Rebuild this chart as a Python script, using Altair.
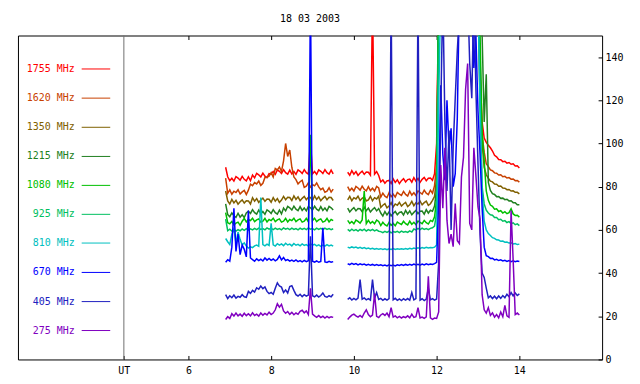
import altair as alt
import pandas as pd

SERIES = ["1755 MHz", "1620 MHz", "1350 MHz", "1215 MHz", "1080 MHz",
          "925 MHz", "810 MHz", "670 MHz", "405 MHz", "275 MHz"]
COLORS = ["#ff0000", "#c84000", "#806000", "#208020", "#00c000",
          "#00c060", "#00c0c0", "#0000ff", "#2020c0", "#8000c0"]

# time sampling (UT hours): segment A starts 6.90, segment B starts 9.85, 0.05 h steps
T_A0, T_B0, STEP = 6.90, 9.85, 0.05

# ---- segment A values (6.90 .. 9.50 UT) ----
A_1755 = [89, 84.6, 82.8, 83.9, 82.6, 84.7, 84.0, 83.0, 84.8, 83.4,
          82.7, 84.6, 82.8, 85.4, 84.1, 86.2, 85.5, 84.5, 86.3, 84.9,
          84.2, 86.1, 85.9, 87.0, 85.7, 87.8, 87.1, 86.1, 87.9, 86.5,
          85.8, 87.7, 85.9, 87.0, 85.7, 87.8, 87.1, 86.1, 87.9, 86.5,
          85.8, 101.5, 85.9, 87.0, 85.7, 87.8, 87.1, 86.1, 87.9, 86.5,
          85.8, 87.7, 85.9]
A_1620 = [84, 76.9, 78.5, 76.5, 77.9, 77.3, 78.6, 76.6, 77.6, 78.3,
          76.4, 78.4, 81.2, 80.5, 81.9, 81.3, 82.6, 80.6, 81.6, 84.3,
          84.4, 84.9, 86.5, 84.5, 88.4, 87.8, 89.1, 87.1, 92, 100,
          94, 97, 89, 84.5, 83.3, 81.3, 82.3, 83.0, 79.7, 80.2,
          81.8, 79.8, 81.0, 80.4, 81.7, 79.9, 78.6, 79.3, 77.4, 77.9,
          79.5, 77.5, 78.9]
A_1350 = [78, 73.4, 72.0, 74.1, 72.5, 73.7, 71.9, 73.0, 73.9, 72.4,
          73.5, 73.4, 72.0, 74.9, 73.3, 74.5, 72.7, 73.8, 74.7, 73.2,
          74.3, 74.2, 72.8, 74.9, 73.3, 74.5, 72.7, 73.8, 75.5, 74.0,
          75.1, 75.0, 73.6, 75.7, 74.1, 75.3, 73.5, 74.6, 75.5, 74.0,
          75.1, 75.0, 73.6, 75.7, 74.1, 75.3, 73.5, 74.6, 75.5, 74.0,
          75.1, 75.0, 73.6]
A_1215 = [72, 67.1, 66.1, 67.9, 66.5, 65.8, 67.7, 65.9, 67.0, 65.7,
          67.8, 68.6, 67.6, 69.4, 68.0, 67.3, 69.2, 67.4, 68.5, 67.2,
          69.3, 68.6, 67.6, 69.4, 68.0, 67.3, 69.2, 67.4, 70.1, 68.8,
          70.9, 70.2, 69.2, 71.0, 69.6, 68.9, 70.8, 69.0, 70.1, 68.8,
          70.9, 70.2, 69.2, 71.0, 69.6, 68.9, 70.8, 69.0, 70.1, 68.8,
          70.9, 70.2, 69.2]
A_1080 = [68, 63.3, 62.8, 63.9, 62.3, 63.1, 63.6, 62.1, 64.0, 65.3,
          63.7, 64.8, 64.3, 65.4, 63.8, 64.6, 65.1, 63.6, 64.0, 65.3,
          63.7, 64.8, 64.3, 65.4, 63.8, 64.6, 65.1, 63.6, 64.0, 65.3,
          63.7, 64.8, 64.3, 65.4, 63.8, 64.6, 65.1, 63.6, 64.0, 65.3,
          63.7, 104, 64.3, 65.4, 63.8, 64.6, 65.1, 63.6, 64.0, 65.3,
          63.7, 64.8, 64.3]
A_925 = [65, 59.6, 60.3, 59.5, 60.2, 59.4, 60.1, 59.6, 60.4, 59.8,
         60.6, 59.9, 60.5, 60, 60.7, 60.1, 60.8, 60.2, 60.6, 60,
         60.9, 60.3, 60.7, 60.1, 60.8, 60.2, 60.6, 60, 60.9, 60.3,
         60.7, 60.1, 60.8, 60.2, 60.6, 60, 60.8, 60.2, 60.7, 60.1,
         60.9, 60.3, 60.6, 60, 60.8, 60.2, 60.7, 60.1, 60.8, 60.2,
         60.6, 60.1, 60.5]
A_810 = [56, 54.5, 53.2, 58, 60.5, 54, 59, 55.5, 53, 54,
         52.5, 51.6, 52.2, 51.8, 52.6, 53, 52.4, 75, 53.2, 52.6,
         53.4, 52.8, 63, 53.1, 52.5, 53.6, 52.9, 53.5, 52.7, 53.8,
         53, 53.4, 52.6, 53.7, 52.9, 53.3, 52.6, 53.5, 52.8, 53.2,
         52.5, 53.6, 52.9, 53.3, 52.6, 53.1, 52.4, 53, 52.5, 53.2,
         52.6, 53, 52.5]
A_670 = [45, 46.2, 45.5, 52, 70, 50, 58, 48.5, 53, 51,
         47.5, 69, 47, 46.2, 45.5, 46.6, 45.8, 46.4, 45.6, 47,
         46, 46.8, 45.9, 46.5, 45.7, 46.3, 48, 46.1, 47.2, 45.8,
         46.2, 45.5, 46, 45.4, 46.1, 45.3, 45.8, 45.2, 45.9, 45.3,
         45.7, 170, 45.5, 45.1, 45.6, 45, 45.4, 61, 45.2, 44.9,
         45.4, 45, 45.3]
A_405 = [30, 28.2, 29.5, 28.6, 29.8, 28.4, 29.2, 28.8, 30, 29,
         28.8, 31.5, 30.6, 32, 31.2, 33.2, 32.5, 34, 32.8, 33.6,
         31.5, 30.5, 31, 30.2, 33, 35.5, 34, 33.5, 31, 32.2,
         30.8, 33.8, 34.2, 32, 30, 29.4, 30.2, 29.1, 30, 29.3,
         29.8, 57, 29.5, 29, 29.8, 28.9, 29.6, 30.8, 29.2, 28.8,
         29.5, 29, 30.2]
A_275 = [18.5, 19.8, 19, 21.2, 20.1, 21.5, 20.2, 21, 20, 21.4,
         20.3, 21.2, 20.2, 21.6, 20.4, 21, 20.1, 21.5, 20.5, 21.3,
         20.6, 21.9, 20.8, 21.5, 23, 25.8, 24.2, 25.5, 22.5, 21.4,
         22.2, 20.9, 21.8, 20.7, 21.5, 20.9, 22.3, 22.8, 21.6, 22.5,
         20.8, 33, 21, 20.2, 19.5, 20.3, 19.4, 20, 19.2, 19.9,
         19.3, 19.8, 19.5]

# ---- segment B values (9.85 .. 14.00 UT); 170 = off scale ----
B_1755 = [86.7, 85.3, 87.4, 85.8, 87.0, 85.2, 86.3, 87.2, 85.7, 86.8,
          86.7, 85.3, 170, 85.8, 87.0, 85.2, 82.2, 83.1, 81.6, 82.7,
          82.9, 81.5, 83.6, 82.0, 83.2, 81.4, 82.8, 83.7, 82.2, 83.3,
          83.5, 82.1, 84.2, 82.6, 83.8, 82.0, 83.4, 84.3, 82.8, 83.9,
          84.0, 83.0, 86.0, 100, 170, 170, 170, 170, 170, 170,
          170, 170, 170, 170, 170, 170, 170, 170, 170, 170,
          170, 170, 170, 170, 132, 110, 102.5, 100.5, 99.2, 98.0,
          96.5, 94.5, 93.8, 92.6, 92.5, 91.6, 91.8, 90.9, 91.2, 90.4,
          90.6, 89.6, 89.7, 88.7]
B_1620 = [80.0, 78.2, 79.3, 78.0, 80.1, 79.4, 78.4, 80.2, 78.8, 78.1,
          80.0, 78.2, 79.3, 78.0, 80.1, 79.4, 75.2, 77.0, 75.6, 74.9,
          77.2, 75.4, 76.5, 75.2, 77.3, 76.6, 76.0, 77.8, 76.4, 75.7,
          77.9, 76.1, 77.2, 75.9, 78.0, 77.3, 76.6, 78.4, 77.0, 76.3,
          78.4, 77.0, 80.5, 90, 170, 170, 170, 170, 170, 170,
          170, 170, 170, 170, 170, 170, 170, 170, 170, 170,
          170, 170, 170, 170, 118, 104, 96, 90.6, 89.3, 87.8,
          87.4, 86.4, 86.2, 85.4, 85.5, 84.6, 84.8, 84.0, 84.2, 83.5,
          83.6, 82.8, 82.9, 82.1]
B_1350 = [73.9, 75.5, 73.5, 74.9, 74.3, 75.6, 73.6, 74.6, 75.3, 73.4,
          73.9, 75.5, 73.5, 74.9, 74.3, 75.6, 70.4, 71.4, 72.1, 70.2,
          71.0, 72.6, 70.6, 72.0, 71.4, 72.7, 71.0, 72.0, 72.7, 70.8,
          71.6, 73.2, 71.2, 72.6, 72.0, 73.3, 71.6, 72.6, 73.3, 71.4,
          72.1, 73.7, 75.5, 84, 170, 170, 170, 170, 170, 170,
          170, 170, 170, 170, 170, 170, 170, 170, 170, 170,
          170, 170, 170, 170, 140, 100, 89, 85.5, 83.9, 82.6,
          82.2, 81.2, 81.1, 80.2, 80.3, 79.4, 79.3, 78.6, 78.7, 78.0,
          78.1, 77.4, 77.4, 76.7]
B_1215 = [70.1, 68.3, 69.4, 70.3, 68.8, 69.9, 69.8, 68.4, 70.5, 68.9,
          70.1, 68.3, 69.4, 70.3, 68.8, 69.9, 67.8, 66.4, 68.5, 66.9,
          68.3, 66.5, 67.6, 68.5, 67.0, 68.1, 68.3, 66.9, 69.0, 67.4,
          68.8, 67.0, 68.1, 69.0, 67.5, 68.6, 68.7, 67.3, 69.4, 67.8,
          69.1, 68.6, 71.0, 79, 170, 170, 170, 170, 170, 170,
          170, 170, 170, 170, 170, 170, 170, 170, 170, 170,
          170, 170, 170, 170, 170, 150, 110, 132, 82, 78.3,
          76.8, 76.4, 75.4, 75.5, 74.6, 74.7, 74.0, 74.2, 73.4, 73.5,
          72.6, 72.6, 71.6, 71.6]
B_1080 = [64.4, 63.0, 63.9, 62.8, 64.5, 63.9, 63.1, 64.6, 78, 62.9,
          64.4, 63.0, 63.9, 62.8, 64.5, 63.9, 62.0, 63.5, 62.4, 61.8,
          63.5, 62.1, 63.0, 61.9, 63.6, 63.0, 62.5, 64.0, 62.9, 62.3,
          64.0, 62.6, 63.5, 62.4, 64.1, 63.5, 62.9, 64.4, 63.3, 62.7,
          64.4, 63.9, 66.0, 74, 170, 170, 170, 170, 170, 170,
          170, 170, 170, 170, 170, 170, 170, 170, 170, 170,
          170, 170, 170, 170, 150, 105, 92, 78, 73.7, 71.5,
          70.9, 69.6, 69.8, 68.5, 68.9, 67.8, 68.4, 67.5, 68.0, 69.8,
          67.4, 66.7, 66.8, 65.9]
B_925 = [60.2, 59.5, 60.3, 59.6, 60.1, 59.4, 60.2, 59.7, 60.3, 59.5,
         60.1, 59.6, 60.2, 59.5, 60.0, 59.4, 59.2, 58.7, 59.3, 58.8,
         59.4, 58.6, 59.2, 58.9, 59.3, 58.7, 59.4, 58.9, 59.2, 58.8,
         59.5, 59.0, 60.4, 60.0, 60.7, 60.1, 60.8, 60.2, 60.6, 60.1,
         60.7, 61.0, 61.8, 68, 170, 170, 170, 170, 170, 170,
         170, 170, 170, 170, 170, 170, 170, 170, 170, 170,
         170, 170, 170, 170, 120, 80, 72, 69.1, 67.8, 67.0,
         66.8, 65.7, 65.7, 64.7, 64.9, 64.0, 64.3, 63.4, 63.8, 62.9,
         63.3, 62.4, 62.8, 62.0]
B_810 = [52.0, 51.6, 52.1, 51.7, 52.0, 51.5, 51.9, 51.4, 51.8, 51.3,
         51.6, 51.2, 51.5, 51.1, 51.4, 51.0, 51.3, 50.9, 51.2, 50.8,
         51.2, 50.9, 51.3, 50.9, 51.2, 51.0, 51.3, 51.0, 51.4, 51.1,
         51.5, 51.2, 51.6, 51.3, 51.7, 51.4, 51.8, 51.5, 51.9, 51.6,
         51.8, 51.7, 52.0, 53, 120, 170, 170, 170, 170, 170,
         170, 170, 170, 170, 170, 170, 170, 170, 170, 170,
         170, 170, 170, 170, 115, 78, 64, 60, 58.3, 57.4,
         56.4, 56.1, 55.4, 55.3, 54.7, 54.8, 54.3, 54.4, 53.9, 54.0,
         53.5, 53.7, 53.2, 53.4]
B_670 = [44.3, 43.9, 44.5, 44.0, 44.4, 43.8, 44.3, 43.9, 44.2, 43.7,
         44.1, 43.6, 44.0, 43.5, 43.9, 43.5, 43.8, 43.4, 43.7, 43.3,
         43.8, 43.4, 43.7, 43.3, 43.8, 43.5, 43.9, 43.5, 44.0, 43.6,
         44.1, 43.7, 44.2, 43.8, 44.1, 43.7, 44.2, 43.8, 44.3, 43.9,
         44.2, 44.0, 44.4, 45, 74, 127, 95, 83, 120, 98,
         107, 80, 86, 112, 170, 170, 170, 170, 170, 170,
         170, 135, 150, 115, 95, 70, 52, 48, 47.6, 46.8,
         46.9, 46.1, 46.4, 45.8, 46.1, 45.6, 45.9, 45.4, 45.8, 45.3,
         45.7, 45.3, 45.6, 45.4]
B_405 = [27.8, 28.6, 27.5, 28.3, 27.6, 28.4, 37, 27.9, 28.5, 27.6,
         28.2, 27.5, 37, 28.4, 31, 27.8, 28.3, 27.4, 28.1, 27.5,
         28.2, 170, 27.6, 28.3, 27.4, 28.0, 27.3, 28.1, 27.5, 28.2,
         27.4, 31, 27.6, 28.2, 170, 27.5, 28.1, 27.3, 28.0, 33,
         27.6, 28.2, 27.5, 28, 45, 115, 170, 110, 78, 106,
         60, 98, 121, 143, 160, 170, 170, 170, 170, 137,
         121, 170, 125, 90.6, 58, 40, 38, 33, 28.5, 29.4,
         28.2, 29.3, 28.1, 29.4, 28.3, 29.6, 28.6, 30.2, 29.1, 31,
         29.4, 30.8, 29.6, 30.4]
B_275 = [18.5, 19.6, 20.5, 21.0, 20.2, 19.6, 20.4, 19.5, 21.5, 23.0,
         20.8, 19.8, 20.5, 30.5, 20.0, 19.4, 20.6, 21.2, 20.4, 21.5,
         19.8, 24.0, 19.6, 20.2, 19.3, 19.9, 19.2, 19.8, 19.4, 20.2,
         19.3, 21.0, 19.5, 19.8, 24.0, 19.2, 19.6, 19.0, 19.7, 38.5,
         19.3, 18.6, 19.2, 19, 22, 90, 70, 98, 64.5, 53.7,
         58, 52.2, 72.2, 55, 53.7, 84.5, 93.7, 125, 137, 63,
         60, 98, 85, 70.6, 65, 30, 23, 21.5, 24, 20.4,
         21.6, 19.6, 20.8, 19.3, 22.0, 19.8, 25.0, 20.2, 19.5, 69,
         46, 20.8, 21.5, 20.6]

VALUES_A = [A_1755, A_1620, A_1350, A_1215, A_1080, A_925, A_810, A_670, A_405, A_275]
VALUES_B = [B_1755, B_1620, B_1350, B_1215, B_1080, B_925, B_810, B_670, B_405, B_275]

# legend placement (in data units)
LEGEND_Y = [134.5, 121.0, 107.5, 94.0, 80.6, 67.2, 53.9, 40.3, 26.8, 13.4]
LEG_TEXT_X, LEG_LINE_X1, LEG_LINE_X2 = 3.25, 3.42, 4.11
UT_X = 4.44
X_TICKS = [6, 8, 10, 12, 14]
Y_TICKS = [0, 20, 40, 60, 80, 100, 120, 140]

rows = []
for name, a, b in zip(SERIES, VALUES_A, VALUES_B):
    assert len(a) == 53, (name, "A", len(a))
    assert len(b) == 84, (name, "B", len(b))
    for i, v in enumerate(a):
        rows.append({"series": name, "seg": "A", "t": round(T_A0 + STEP * i, 3), "v": v})
    for j, v in enumerate(b):
        rows.append({"series": name, "seg": "B", "t": round(T_B0 + STEP * j, 3), "v": v})
df = pd.DataFrame(rows)

leg = pd.DataFrame({"series": SERIES, "ly": LEGEND_Y,
                    "lx": [LEG_TEXT_X] * len(SERIES),
                    "lx1": [LEG_LINE_X1] * len(SERIES),
                    "lx2": [LEG_LINE_X2] * len(SERIES)})

MONO = "DejaVu Sans Mono"
xs = alt.Scale(domain=[1.88, 16], nice=False, zero=False)
ys = alt.Scale(domain=[0, 150], nice=False, zero=False)
cs = alt.Scale(domain=SERIES, range=COLORS)

bottom_axis = alt.Axis(orient="bottom", values=[UT_X] + X_TICKS, title=None,
                       labelExpr="datum.value < 5 ? 'UT' : datum.label",
                       format="d", grid=False, domain=False, tickSize=4, offset=-4,
                       labelPadding=6, labelFont=MONO, labelFontSize=10,
                       labelColor="black", tickColor="black", labelFlush=False)
top_axis = alt.Axis(orient="top", values=X_TICKS, title=None, labels=False,
                    grid=False, domain=False, tickSize=4, offset=-4, tickColor="black")
right_axis = alt.Axis(orient="right", values=Y_TICKS, title=None, grid=False,
                      domain=False, tickSize=4, offset=-4, labelPadding=3,
                      labelFont=MONO, labelFontSize=10, labelColor="black",
                      tickColor="black", labelOverlap=False, labelFlush=False)

ut_rule = alt.Chart(pd.DataFrame({"t": [UT_X]})).mark_rule(
    color="#707070", strokeWidth=1).encode(
    x=alt.X("t:Q", scale=xs, axis=top_axis))

lines = alt.Chart(df).mark_line(strokeWidth=1.5, clip=True).encode(
    x=alt.X("t:Q", scale=xs, axis=bottom_axis),
    y=alt.Y("v:Q", scale=ys, axis=right_axis),
    color=alt.Color("series:N", scale=cs, legend=None, sort=SERIES),
    detail="seg:N",
)

leg_text = alt.Chart(leg).mark_text(
    align="right", baseline="middle", font=MONO, fontSize=10).encode(
    x=alt.X("lx:Q", scale=xs, axis=None),
    y=alt.Y("ly:Q", scale=ys, axis=right_axis),
    color=alt.Color("series:N", scale=cs, legend=None),
    text="series:N",
)

leg_line = alt.Chart(leg).mark_rule(strokeWidth=1).encode(
    x=alt.X("lx1:Q", scale=xs, axis=None),
    x2="lx2:Q",
    y=alt.Y("ly:Q", scale=ys, axis=right_axis),
    color=alt.Color("series:N", scale=cs, legend=None),
)

chart = alt.layer(ut_rule, lines, leg_text, leg_line).resolve_axis(
    x="independent"
).properties(
    width=586, height=325,
    title=alt.TitleParams("18 03 2003", font=MONO, fontSize=10, fontWeight="normal",
                          color="black", anchor="middle", offset=11),
    autosize=alt.AutoSizeParams(type="none"),
    padding={"left": 10, "top": 27, "right": 30, "bottom": 17},
    background="white",
).configure_view(stroke="black", strokeWidth=1)

chart.save("out.html", embed_options={"renderer": "svg", "actions": False})
